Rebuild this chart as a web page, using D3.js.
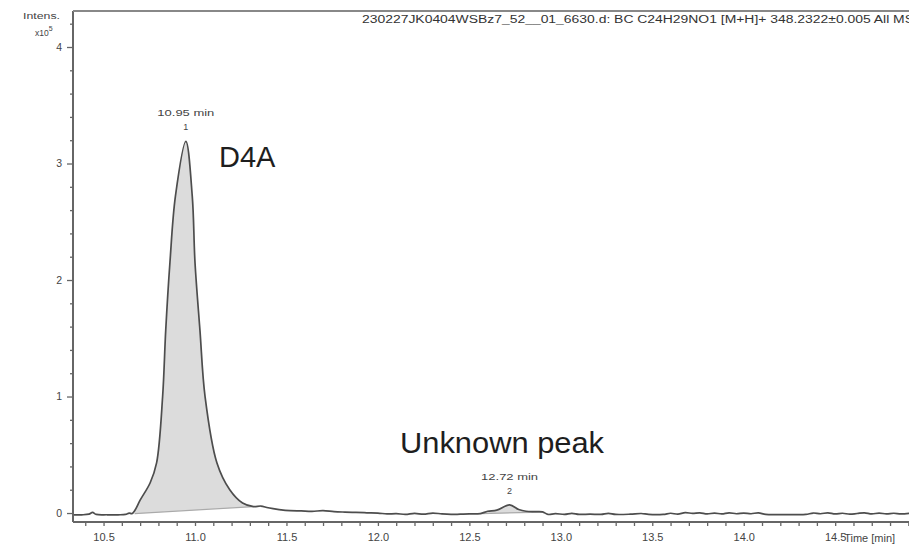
<!DOCTYPE html>
<html>
<head>
<meta charset="utf-8">
<script src="https://cdn.jsdelivr.net/npm/d3@7"></script>
<style>
  html, body { margin: 0; padding: 0; background: #fff; }
  svg { display: block; font-family: "Liberation Sans", Arial, sans-serif; }
</style>
</head>
<body>
<svg id="chart" width="909" height="547"></svg>
<script>
// Extracted ion chromatogram, intensity in units of 10^5 counts
const times = [
  10.33, 10.38, 10.42, 10.44, 10.46, 10.52, 10.58, 10.62, 10.64, 10.655,
  10.67, 10.70, 10.755, 10.79, 10.823, 10.84, 10.863, 10.893, 10.95, 10.985,
  11.0, 11.027, 11.055, 11.12, 11.19, 11.26, 11.32, 11.36, 11.40, 11.46,
  11.52, 11.58, 11.64, 11.70, 11.76, 11.82, 11.88, 11.94, 12.00, 12.05,
  12.10, 12.15, 12.20, 12.25, 12.30, 12.35, 12.40, 12.45, 12.50, 12.56,
  12.60, 12.65, 12.72, 12.77, 12.81, 12.86, 12.90, 12.93, 12.97, 13.02,
  13.06, 13.10, 13.16, 13.22, 13.26, 13.30, 13.38, 13.44, 13.48, 13.56,
  13.60, 13.64, 13.68, 13.72, 13.76, 13.80, 13.84, 13.88, 13.92, 13.96,
  14.00, 14.04, 14.08, 14.12, 14.20, 14.28, 14.34, 14.38, 14.42, 14.46,
  14.50, 14.54, 14.58, 14.62, 14.66, 14.70, 14.74, 14.78, 14.82, 14.86, 14.92
];
const intensity = [
  -0.015, -0.015, -0.010, 0.005, -0.012, -0.015, -0.015, -0.012, 0.000, -0.005,
  0.020, 0.110, 0.260, 0.430, 1.000, 1.570, 2.150, 2.720, 3.190, 2.720,
  2.150, 1.570, 1.000, 0.430, 0.200, 0.086, 0.055, 0.060, 0.045, 0.030,
  0.020, 0.018, 0.015, 0.020, 0.012, 0.008, 0.005, 0.002, 0.000, -0.008,
  -0.005, -0.012, -0.003, -0.010, 0.000, -0.008, -0.012, -0.010, -0.008, -0.005,
  0.015, 0.025, 0.070, 0.030, 0.015, 0.012, 0.010, -0.012, -0.005, -0.012,
  -0.003, -0.012, -0.010, -0.012, -0.003, -0.012, -0.010, -0.004, -0.012, -0.012,
  -0.002, -0.010, 0.003, -0.003, 0.002, -0.008, 0.000, -0.008, 0.002, -0.006,
  0.000, -0.006, 0.002, -0.012, -0.014, -0.014, -0.012, 0.000, -0.006, 0.002,
  -0.008, -0.002, -0.010, -0.004, 0.002, -0.008, 0.000, -0.008, -0.002, -0.008, 0.000
];

// Integrated peaks: apex time, number, integration start/end (time, intensity)
const peakApex = [10.95, 12.72];
const peakNumber = ["1", "2"];
const peakStartTime = [10.67, 12.56];
const peakStartLevel = [-0.005, -0.005];
const peakEndTime = [11.32, 12.90];
const peakEndLevel = [0.055, 0.008];

// Axis ticks
const yTicks = [0, 1, 2, 3, 4];
const xTicks = [10.5, 11.0, 11.5, 12.0, 12.5, 13.0, 13.5, 14.0, 14.5];

const titleText = "230227JK0404WSBz7_52__01_6630.d: BC C24H29NO1 [M+H]+ 348.2322\u00b10.005 All MS";

const svg = d3.select("#chart");
const plotLeft = 73, plotTop = 11, plotBottom = 522, plotRight = 912;

const x = d3.scaleLinear().domain([10.333, 14.92]).range([plotLeft, plotRight]);
const y = d3.scaleLinear().domain([-0.077, 4.309]).range([plotBottom, plotTop]);

const axisColor = "#666";
const textColor = "#444";

// Clip trace to plot area
svg.append("defs").append("clipPath").attr("id", "plot")
  .append("rect").attr("x", plotLeft).attr("y", plotTop)
  .attr("width", plotRight - plotLeft).attr("height", plotBottom - plotTop);

const trace = times.map((t, i) => ({ t, v: intensity[i] }));
const curve = d3.curveCatmullRom.alpha(0.5);

// Peak fills between trace and integration baseline
const gPeaks = svg.append("g").attr("clip-path", "url(#plot)");
peakApex.forEach((apex, k) => {
  const t0 = peakStartTime[k], t1 = peakEndTime[k];
  const base = d3.scaleLinear().domain([t0, t1]).range([peakStartLevel[k], peakEndLevel[k]]);
  const seg = trace.filter(d => d.t >= t0 && d.t <= t1);
  gPeaks.append("path")
    .datum(seg)
    .attr("fill", "#dcdcdc")
    .attr("d", d3.area().curve(curve)
      .x(d => x(d.t))
      .y0(d => y(base(d.t)))
      .y1(d => y(d.v)));
  gPeaks.append("line")
    .attr("x1", x(t0)).attr("y1", y(peakStartLevel[k]))
    .attr("x2", x(t1)).attr("y2", y(peakEndLevel[k]))
    .attr("stroke", "#aaa").attr("stroke-width", 1.2);
});

// Chromatogram trace
svg.append("path")
  .datum(trace)
  .attr("clip-path", "url(#plot)")
  .attr("fill", "none")
  .attr("stroke", "#4d4d4d")
  .attr("stroke-width", 1.7)
  .attr("stroke-linejoin", "round")
  .attr("d", d3.line().curve(curve).x(d => x(d.t)).y(d => y(d.v)));

// Y axis
const yAxis = svg.append("g").attr("transform", `translate(${plotLeft},0)`);
yAxis.call(d3.axisLeft(y).tickValues(d3.range(0, 4.21, 0.2)).tickSize(3).tickFormat(""));
yAxis.selectAll(".tick").filter(d => Math.abs(d - Math.round(d)) < 1e-6).select("line").attr("x2", -6);
yAxis.select(".domain").remove();
yAxis.selectAll("line").attr("stroke", axisColor).attr("stroke-width", 1.3);
yAxis.append("g").call(d3.axisLeft(y).tickValues(yTicks).tickSize(0).tickPadding(11).tickFormat(d3.format("d")))
  .call(g => g.select(".domain").remove())
  .call(g => g.selectAll("text").attr("fill", textColor).attr("font-size", 10.5)
    .attr("font-family", "Liberation Sans, Arial, sans-serif"));

// X axis
const xAxis = svg.append("g").attr("transform", `translate(0,${plotBottom})`);
xAxis.call(d3.axisBottom(x).tickValues(d3.range(10.4, 14.91, 0.1)).tickSize(4).tickFormat(""));
xAxis.select(".domain").remove();
xAxis.selectAll("line").attr("stroke", axisColor).attr("stroke-width", 1.3);
xAxis.append("g").call(d3.axisBottom(x).tickValues(xTicks).tickSize(0).tickPadding(11).tickFormat(d3.format(".1f")))
  .call(g => g.select(".domain").remove())
  .call(g => g.selectAll("text").attr("fill", textColor).attr("font-size", 11)
    .attr("font-family", "Liberation Sans, Arial, sans-serif"));

svg.append("text")
  .attr("x", x(14.5) + 9).attr("y", plotBottom + 20)
  .attr("fill", textColor).attr("font-size", 11)
  .text("Time [min]");

// Frame lines
svg.append("line").attr("x1", plotLeft).attr("x2", plotLeft).attr("y1", plotTop).attr("y2", plotBottom)
  .attr("stroke", axisColor).attr("stroke-width", 2);
svg.append("line").attr("x1", plotLeft).attr("x2", plotRight).attr("y1", plotBottom).attr("y2", plotBottom)
  .attr("stroke", axisColor).attr("stroke-width", 2);
svg.append("line").attr("x1", plotLeft).attr("x2", plotRight).attr("y1", plotTop).attr("y2", plotTop)
  .attr("stroke", "#888").attr("stroke-width", 2);

// Intensity unit label
svg.append("text").attr("x", 23).attr("y", 19).attr("fill", textColor).attr("font-size", 8.5)
  .attr("textLength", 37).attr("lengthAdjust", "spacingAndGlyphs").text("Intens.");
const unit = svg.append("text").attr("x", 35).attr("y", 36).attr("fill", textColor).attr("font-size", 8.5);
unit.append("tspan").text("x10");
unit.append("tspan").attr("dy", -5).attr("font-size", 7).text("5");

// Title
svg.append("text").attr("x", 362).attr("y", 23).attr("fill", "#333").attr("font-size", 10)
  .attr("textLength", 552).attr("lengthAdjust", "spacingAndGlyphs").text(titleText);

// Peak labels
peakApex.forEach((apex, k) => {
  const vmax = d3.max(trace.filter(d => Math.abs(d.t - apex) < 0.03), d => d.v);
  const py = y(vmax);
  svg.append("text").attr("x", x(apex)).attr("y", py - 25)
    .attr("text-anchor", "middle").attr("fill", textColor).attr("font-size", 9)
    .attr("textLength", 57).attr("lengthAdjust", "spacingAndGlyphs")
    .text(`${apex.toFixed(2)} min`);
  svg.append("text").attr("x", x(apex)).attr("y", py - 11)
    .attr("text-anchor", "middle").attr("fill", textColor).attr("font-size", 9)
    .text(peakNumber[k]);
});

// Compound annotations
svg.append("text").attr("x", 219).attr("y", 167).attr("fill", "#1e1e1e")
  .attr("font-size", 29).text("D4A");
svg.append("text").attr("x", 400).attr("y", 453).attr("fill", "#1e1e1e")
  .attr("font-size", 29).attr("textLength", 204).attr("lengthAdjust", "spacingAndGlyphs")
  .text("Unknown peak");
</script>
</body>
</html>
